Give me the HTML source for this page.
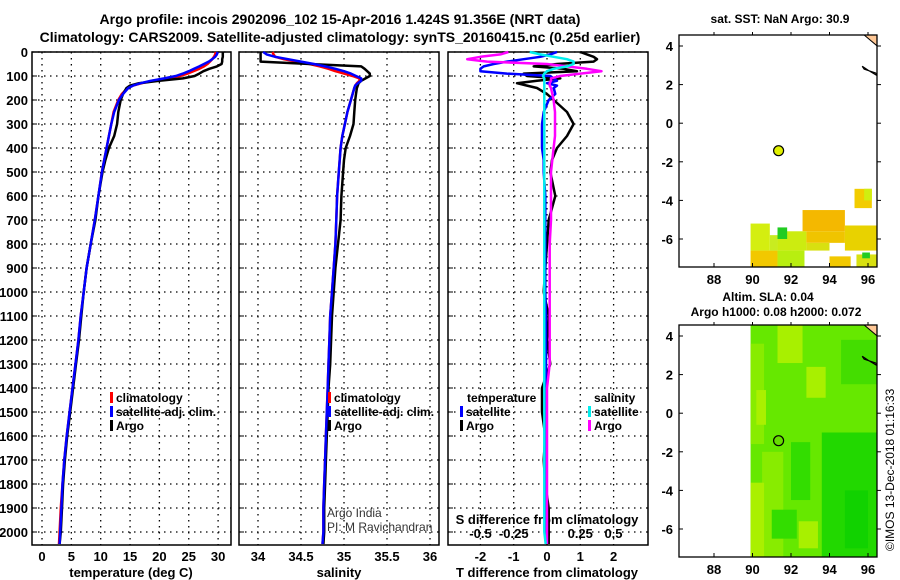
<!DOCTYPE html>
<html><head><meta charset="utf-8"><style>
html,body{margin:0;padding:0;background:#fff;}
svg{display:block;font-family:"Liberation Sans",sans-serif;font-weight:bold;}
</style></head><body>
<svg id="fig" width="900" height="580" viewBox="0 0 900 580" xmlns="http://www.w3.org/2000/svg">
<text x="340" y="24" font-size="14" text-anchor="middle">Argo profile: incois 2902096_102 15-Apr-2016 1.424S 91.356E (NRT data)</text>
<text x="340" y="42" font-size="14" text-anchor="middle">Climatology: CARS2009. Satellite-adjusted climatology: synTS_20160415.nc (0.25d earlier)</text>
<g id="p1"></g>
<g id="p2"></g>
<g id="p3"></g>
<g id="m1"></g>
<g id="m2"></g>
<text x="780" y="23" font-size="12" text-anchor="middle">sat. SST: NaN Argo: 30.9</text>
<text x="768" y="301" font-size="12" text-anchor="middle">Altim. SLA: 0.04</text>
<text x="776" y="316" font-size="12" text-anchor="middle">Argo h1000: 0.08 h2000: 0.072</text>
<text transform="translate(894,551) rotate(-90)" font-size="12" font-weight="normal">©IMOS 13-Dec-2018 01:16:33</text>
</svg>
<script>
const depths=[0,10,20,30,40,50,60,70,80,90,100,110,120,130,140,150,175,200,250,300,350,400,450,500,600,700,800,900,1000,1100,1200,1300,1400,1500,1600,1700,1800,1900,2000,2050];
const tempArgo=[30.8,30.8,30.8,30.7,30.7,30.6,29.8,28.5,27.5,26.8,26.0,24.0,20.0,16.5,15.0,14.4,13.8,13.4,13.0,12.8,12.3,11.4,10.8,10.3,9.6,9.1,8.3,7.6,7.1,6.7,6.3,5.8,5.3,4.8,4.3,3.9,3.6,3.4,3.2,3.0];
const tempClim=[29.6,29.5,29.3,29.0,28.6,28.2,27.6,26.8,25.8,24.8,23.5,21.5,19.0,17.0,15.5,14.6,13.6,13.0,12.2,11.8,11.4,11.0,10.6,10.2,9.6,9.0,8.3,7.6,7.1,6.6,6.2,5.7,5.2,4.7,4.2,3.8,3.5,3.2,3.0,2.9];
const tempSat=[29.9,29.8,29.5,29.0,28.4,27.6,26.8,25.9,25.0,24.0,22.8,20.8,18.5,16.8,15.5,14.7,13.8,13.1,12.3,11.8,11.4,11.0,10.6,10.2,9.6,9.0,8.3,7.6,7.1,6.6,6.2,5.7,5.2,4.7,4.2,3.8,3.5,3.3,3.1,3.0];
const salArgo=[34.03,34.03,34.03,34.03,34.03,34.6,35.2,35.24,35.27,35.3,35.3,35.25,35.2,35.17,35.16,35.15,35.14,35.13,35.12,35.11,35.07,35.02,35.0,34.99,34.97,34.96,34.93,34.9,34.88,34.86,34.85,34.84,34.82,34.81,34.8,34.79,34.78,34.77,34.77,34.76];
const salClim=[34.17,34.18,34.2,34.3,34.45,34.6,34.72,34.82,34.9,35.0,35.1,35.18,35.18,35.15,35.13,35.12,35.1,35.08,35.04,35.01,34.98,34.96,34.95,34.94,34.92,34.91,34.9,34.88,34.86,34.84,34.83,34.82,34.81,34.8,34.79,34.78,34.77,34.76,34.76,34.75];
const salSat=[34.06,34.1,34.2,34.35,34.5,34.65,34.78,34.9,35.0,35.08,35.14,35.2,35.2,35.16,35.13,35.12,35.1,35.08,35.04,35.01,34.98,34.96,34.95,34.94,34.92,34.91,34.9,34.88,34.86,34.84,34.83,34.82,34.81,34.8,34.79,34.78,34.77,34.76,34.76,34.75];
const dTempArgo=[1.0,1.2,1.4,1.5,1.4,0.3,-0.4,0.5,0.9,-0.7,-0.6,0.4,-0.3,-0.9,-0.6,-0.3,0.0,0.2,0.6,0.8,0.6,0.3,0.15,0.1,0.25,0.05,0.0,-0.05,-0.1,0.05,0.0,0.1,-0.15,-0.15,-0.05,-0.1,-0.05,0.05,0.05,0.05];
const dTempSat=[0.3,0.1,-0.2,-0.7,-1.2,-1.6,-1.9,-2.0,-2.0,-1.2,0.1,0.2,0.3,0.0,0.3,0.2,0.25,0.05,-0.1,-0.15,-0.15,-0.15,-0.1,-0.1,-0.05,-0.05,-0.05,-0.05,-0.05,-0.03,-0.03,-0.03,-0.03,-0.03,-0.03,-0.03,-0.03,-0.03,-0.03,-0.03];
const dSalArgo=[-0.29,-0.35,-0.5,-0.6,-0.45,0.0,0.15,0.3,0.41,0.25,0.1,0.03,0.03,0.02,0.02,0.03,0.04,0.05,0.06,0.06,0.06,0.05,0.04,0.03,0.03,0.03,0.02,0.02,0.02,0.02,0.02,0.02,0.0,0.0,0.0,0.0,0.0,0.0,0.0,0.0];
const dSalSat=[-0.13,-0.05,0.05,0.15,0.2,0.2,0.15,0.05,0.0,-0.02,-0.03,-0.02,-0.02,-0.02,-0.02,-0.02,-0.02,-0.02,-0.02,-0.02,-0.02,-0.02,-0.02,-0.02,-0.02,-0.02,-0.02,-0.02,-0.02,-0.02,-0.02,-0.02,-0.02,-0.02,-0.02,-0.02,-0.02,-0.02,-0.02,-0.01];
const depthTicks=[0,100,200,300,400,500,600,700,800,900,1000,1100,1200,1300,1400,1500,1600,1700,1800,1900,2000];
const tempTicks=[0,5,10,15,20,25,30];
const salTicks=[34,34.5,35,35.5,36];
const salTickLabels=["34","34.5","35","35.5","36"];
const dTTicks=[-2,-1,0,1,2];
const dSTicks=[-0.5,-0.25,0,0.25,0.5];
const dSTickLabels=["-0.5","-0.25","0","0.25","0.5"];
const lonTicks=[88,90,92,94,96];
const latTicks=[4,2,0,-2,-4,-6];
const argoLon=91.356, argoLat=-1.424;
const sstCells=[[89.9,90.9,-5.2,-6.6,"#d4ee10"],[89.9,91.3,-6.6,-7.45,"#f2c800"],[90.9,91.3,-5.8,-6.6,"#c8ec20"],[91.3,92.8,-5.6,-6.6,"#ccec10"],[91.3,91.8,-5.4,-6.0,"#22cc22"],[91.3,92.7,-6.6,-7.45,"#b8ee10"],[92.6,94.8,-4.5,-5.6,"#f4b800"],[92.8,94.8,-5.6,-6.2,"#f0c400"],[92.8,94.0,-6.2,-6.6,"#d8e010"],[94.8,96.5,-5.3,-6.6,"#e8d200"],[95.3,96.2,-3.4,-4.4,"#f2cc00"],[95.8,96.2,-3.4,-4.0,"#d0ee10"],[94.0,95.1,-6.9,-7.45,"#f2c800"],[95.4,96.5,-6.8,-7.45,"#d8e010"],[95.7,96.1,-6.7,-7.0,"#22cc22"]];
const slaCells=[[89.9,96.5,4.6,-7.45,"#66e800"],[91.3,92.6,4.6,2.6,"#a8f000"],[89.9,90.6,3.6,-1.6,"#88ec00"],[90.2,90.7,1.2,-0.6,"#aaf000"],[92.8,93.8,2.4,0.8,"#a8f000"],[90.5,91.6,-2.0,-7.45,"#88ec00"],[89.9,90.6,-3.6,-7.45,"#aaf000"],[92.4,93.4,-5.6,-7.0,"#a8f000"],[93.6,96.5,-1.0,-7.45,"#22d800"],[94.6,96.5,3.8,1.5,"#44dd00"],[92.0,93.0,-1.5,-4.5,"#33dd00"],[91.0,92.3,-5.0,-6.5,"#33dd00"],[94.8,96.0,-4.0,-7.0,"#11d200"]];
const NS="http://www.w3.org/2000/svg";
function mk(parent,tag,attrs){const e=document.createElementNS(NS,tag);for(const k in attrs)e.setAttribute(k,attrs[k]);parent.appendChild(e);return e;}
const Y0=52, YS=0.24, YB=545;
const yD=d=>Y0+d*YS;
const xT=t=>42+t*5.87;
const xS=s=>301+(s-34.5)*86;
const xDT=t=>547+t*33.3;
const xDS=s=>547+s*133;
function frame(g,x0,x1,xticks,xfn){
  for(const d of depthTicks){const l=mk(g,'line',{x1:x0,x2:x1,y1:yD(d),y2:yD(d),stroke:'#000','stroke-width':1.3,'stroke-dasharray':'1.5,4.5'});
    const t=mk(g,'line',{x1:x0,x2:x0+5,y1:yD(d),y2:yD(d),stroke:'#000','stroke-width':1});}
  for(const v of xticks){const l=mk(g,'line',{x1:xfn(v),x2:xfn(v),y1:Y0,y2:YB,stroke:'#000','stroke-width':1.3,'stroke-dasharray':'1.5,4.5'});}
  const r=mk(g,'rect',{x:x0,y:Y0,width:x1-x0,height:YB-Y0,fill:'none',stroke:'#000','stroke-width':1.5});
}
function line(g,xs,fn,col,name){const pts=xs.map((v,i)=>fn(v).toFixed(1)+','+yD(depths[i]).toFixed(1)).join(' ');const p=mk(g,'polyline',{points:pts,fill:'none',stroke:col,'stroke-width':2.5,'stroke-linejoin':'round'});}
function txt(g,x,y,s,attrs,name){const t=mk(g,'text',Object.assign({x:x,y:y,'font-size':13},attrs||{}));t.textContent=s;return t;}
function legend(g,x,y,col,label,name,bw){const b=mk(g,'rect',{x:x,y:y-10,width:bw||3,height:11,fill:col});txt(g,x+6,y,label,{'font-size':12},name);}
const p1=document.getElementById('p1');
frame(p1,32,231,tempTicks,xT);
for(const d of depthTicks)txt(p1,28,yD(d)+5,String(d),{'text-anchor':'end'},'depth-tick-label');
for(const v of tempTicks)txt(p1,xT(v),561,String(v),{'text-anchor':'middle'},'temp-tick-label');
txt(p1,131,577,'temperature (deg C)',{'text-anchor':'middle'},'x-axis-title-temperature');
line(p1,tempClim,xT,'#ff0000','temp-climatology-line');
line(p1,tempArgo,xT,'#000000','temp-argo-line');
line(p1,tempSat,xT,'#0000ff','temp-satellite-line');
legend(p1,110,402,'#ff0000','climatology','legend-climatology');
legend(p1,110,416,'#0000ff','satellite-adj. clim.','legend-satellite-adj');
legend(p1,110,430,'#000000','Argo','legend-argo');
const p2=document.getElementById('p2');
frame(p2,239,439,salTicks,xS);
salTicks.forEach((v,i)=>txt(p2,xS(v),561,salTickLabels[i],{'text-anchor':'middle'},'sal-tick-label'));
txt(p2,339,577,'salinity',{'text-anchor':'middle'},'x-axis-title-salinity');
line(p2,salClim,xS,'#ff0000','sal-climatology-line');
line(p2,salArgo,xS,'#000000','sal-argo-line');
line(p2,salSat,xS,'#0000ff','sal-satellite-line');
legend(p2,328,402,'#ff0000','climatology','legend-climatology');
legend(p2,328,416,'#0000ff','satellite-adj. clim.','legend-satellite-adj');
legend(p2,328,430,'#000000','Argo','legend-argo');
txt(p2,327,517,'Argo India',{'font-size':12,'font-weight':'normal',fill:'#333'},'credit-argo-india');
txt(p2,327,531,'PI: M Ravichandran',{'font-size':12,'font-weight':'normal',fill:'#333'},'credit-pi');
const p3=document.getElementById('p3');
frame(p3,448,648,dTTicks,xDT);
for(const v of dTTicks)txt(p3,xDT(v),561,String(v),{'text-anchor':'middle'},'dT-tick-label');
txt(p3,547,577,'T difference from climatology',{'text-anchor':'middle'},'x-axis-title-tdiff');
txt(p3,547,524,'S difference from climatology',{'text-anchor':'middle'},'s-axis-title');
dSTicks.forEach((v,i)=>txt(p3,xDS(v),538,dSTickLabels[i],{'text-anchor':'middle'},'dS-tick-label'));
line(p3,dTempArgo,xDT,'#000000','tdiff-argo-line');
line(p3,dTempSat,xDT,'#0000ff','tdiff-satellite-line');
line(p3,dSalArgo,xDS,'#ff00ff','sdiff-argo-line');
line(p3,dSalSat,xDS,'#00eeee','sdiff-satellite-line');
txt(p3,467,402,'temperature',{'font-size':12},'legend-temperature-heading');
legend(p3,460,416,'#0000ff','satellite','legend-temp-satellite');
legend(p3,460,430,'#000000','Argo','legend-temp-argo');
txt(p3,594,402,'salinity',{'font-size':12},'legend-salinity-heading');
legend(p3,588,416,'#00eeee','satellite','legend-sal-satellite');
legend(p3,588,430,'#ff00ff','Argo','legend-sal-argo');
function drawMap(g,top,cells,dotFill){
  const xL=l=>714+(l-88)*19.25, yL=a=>top+11+(4-a)*19.3;
  const bottom=top+232;
  const cp=mk(g,'clipPath',{id:'c'+top});mk(cp,'rect',{x:679,y:top,width:198,height:232});
  const cg=mk(g,'g',{'clip-path':'url(#c'+top+')'});
  for(const c of cells){const r=mk(cg,'rect',{x:xL(c[0]),y:yL(c[2]),width:xL(c[1])-xL(c[0]),height:yL(c[3])-yL(c[2]),fill:c[4]});}
  const land=mk(cg,'polygon',{points:`${xL(95.8)},${top} ${xL(96.6)},${top} ${xL(96.6)},${yL(3.9)}`,fill:'#ffc896',stroke:'#000','stroke-width':1});
  const isl=mk(cg,'polygon',{points:`${xL(95.7)},${yL(2.95)} ${xL(96.0)},${yL(2.75)} ${xL(96.5)},${yL(2.45)} ${xL(96.4)},${yL(2.6)} ${xL(95.8)},${yL(2.8)}`,fill:'#ffc896',stroke:'#000','stroke-width':1.2});
  const dot=mk(g,'circle',{cx:xL(argoLon),cy:yL(argoLat),r:5,fill:dotFill,stroke:'#000','stroke-width':1.2});
  const fr=mk(g,'rect',{x:679,y:top,width:198,height:232,fill:'none',stroke:'#000','stroke-width':1.3});
  for(const l of lonTicks){const t=mk(g,'line',{x1:xL(l),x2:xL(l),y1:bottom,y2:bottom-4,stroke:'#000'});
    const t2=mk(g,'line',{x1:xL(l),x2:xL(l),y1:top,y2:top-3,stroke:'#000'});
    txt(g,xL(l),bottom+17,String(l),{'text-anchor':'middle'},'lon-tick-label');}
  for(const a of latTicks){const t=mk(g,'line',{x1:679,x2:683,y1:yL(a),y2:yL(a),stroke:'#000'});
    const t2=mk(g,'line',{x1:877,x2:881,y1:yL(a),y2:yL(a),stroke:'#000'});
    txt(g,673,yL(a)+5,String(a),{'text-anchor':'end'},'lat-tick-label');}
}
drawMap(document.getElementById('m1'),35,sstCells,'#e0f000');
drawMap(document.getElementById('m2'),325,slaCells,'#66dd00');
</script>
</body></html>
